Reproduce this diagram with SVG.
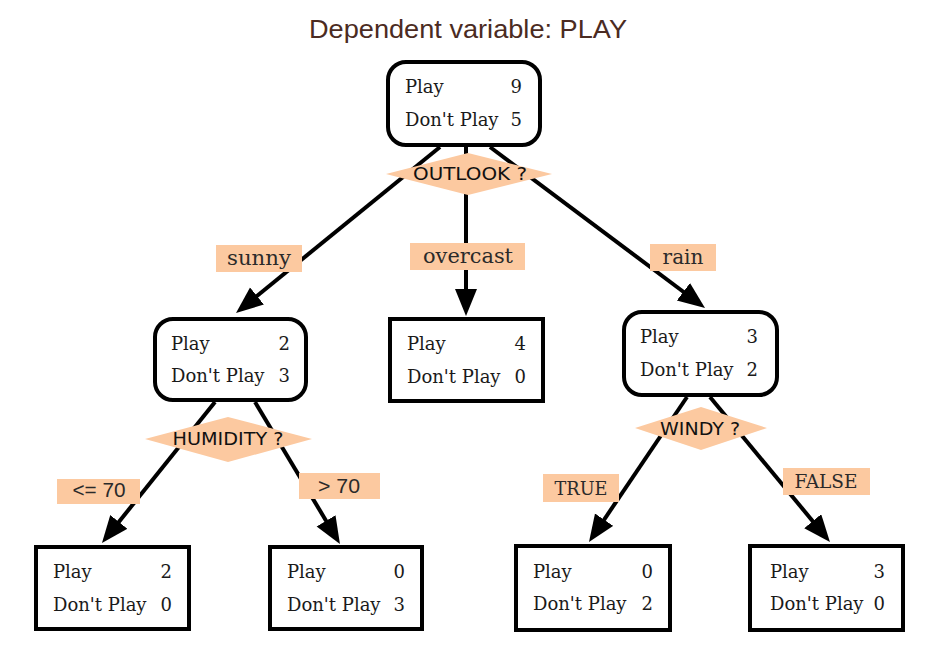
<svg xmlns="http://www.w3.org/2000/svg" width="932" height="661" viewBox="0 0 932 661">
<style>
.box{fill:#fff;stroke:#000;stroke-width:4}
.nt{font-family:"DejaVu Serif","Liberation Serif",serif;font-size:18px;fill:#1a1a1a}
.num{text-anchor:end}
.edge{stroke:#000;stroke-width:4;fill:none}
.dia{fill:#fcc9a0}
.dt{font-family:"DejaVu Sans","Liberation Sans",sans-serif;font-size:17px;fill:#111;text-anchor:middle}
.lab{fill:#fcc9a0}
.lt{font-family:"DejaVu Serif","Liberation Serif",serif;font-size:20px;fill:#2a2a2a;text-anchor:middle}
.ls{font-family:"Liberation Sans","DejaVu Sans",sans-serif;font-size:20px;fill:#2a2a2a;text-anchor:middle}
.title{font-family:"Liberation Sans","DejaVu Sans",sans-serif;font-size:25px;fill:#4b2b22;text-anchor:middle}
</style>
<defs>
<marker id="arr" markerUnits="userSpaceOnUse" markerWidth="28" markerHeight="24" refX="2" refY="11" orient="auto" viewBox="0 0 28 24">
<path d="M0,0 L27,11 L0,22 z" fill="#000"/>
</marker>
</defs>
<rect width="932" height="661" fill="#fff"/>
<text class="title" x="468" y="38" textLength="318" lengthAdjust="spacingAndGlyphs">Dependent variable: PLAY</text>

<g id="connectors">
<line class="edge" x1="440" y1="147" x2="255.4" y2="297.2" marker-end="url(#arr)"/>
<line class="edge" x1="466" y1="147" x2="466" y2="291" marker-end="url(#arr)"/>
<line class="edge" x1="490" y1="147" x2="685" y2="293" marker-end="url(#arr)"/>
<line class="edge" x1="215" y1="402" x2="117.6" y2="523.5" marker-end="url(#arr)"/>
<line class="edge" x1="255" y1="402" x2="327.1" y2="522.5" marker-end="url(#arr)"/>
<line class="edge" x1="687" y1="397" x2="603" y2="521.3" marker-end="url(#arr)"/>
<line class="edge" x1="710" y1="397" x2="814" y2="522.7" marker-end="url(#arr)"/>
</g>

<g id="labels">
<g id="lab-sunny"><rect class="lab" x="216" y="245" width="86" height="27"/><text class="lt" x="259" y="265" textLength="64" lengthAdjust="spacingAndGlyphs">sunny</text></g>
<g id="lab-overcast"><rect class="lab" x="410" y="243" width="115" height="27"/><text class="lt" x="468" y="263" textLength="90" lengthAdjust="spacingAndGlyphs">overcast</text></g>
<g id="lab-rain"><rect class="lab" x="650" y="244" width="66" height="27"/><text class="lt" x="683" y="264">rain</text></g>
<g id="lab-le70"><rect class="lab" x="57" y="479" width="83" height="25"/><text class="ls" x="99" y="497" textLength="53" lengthAdjust="spacingAndGlyphs">&lt;= 70</text></g>
<g id="lab-gt70"><rect class="lab" x="299" y="473" width="81" height="26"/><text class="ls" x="339" y="493" textLength="42" lengthAdjust="spacingAndGlyphs">&gt; 70</text></g>
<g id="lab-true"><rect class="lab" x="543" y="474" width="76" height="28"/><text class="lt" x="581" y="495" style="font-size:18px" textLength="53" lengthAdjust="spacingAndGlyphs">TRUE</text></g>
<g id="lab-false"><rect class="lab" x="783" y="468" width="87" height="27"/><text class="lt" x="826" y="488" style="font-size:18px" textLength="63" lengthAdjust="spacingAndGlyphs">FALSE</text></g>
</g>

<g id="root">
<rect class="box" x="388" y="62" width="152" height="83" rx="18"/>
<text class="nt" x="405" y="93">Play</text><text class="nt num" x="522" y="93">9</text>
<text class="nt" x="405" y="126">Don't Play</text><text class="nt num" x="522" y="126">5</text>
</g>
<g id="d-outlook">
<polygon class="dia" points="386,174 468,153 552,174 468,195"/>
<text class="dt" x="470" y="180" textLength="114" lengthAdjust="spacingAndGlyphs">OUTLOOK ?</text>
</g>

<g id="sunny">
<rect class="box" x="155" y="319" width="151" height="81" rx="18"/>
<text class="nt" x="171" y="350">Play</text><text class="nt num" x="290" y="350">2</text>
<text class="nt" x="171" y="382">Don't Play</text><text class="nt num" x="290" y="382">3</text>
</g>
<g id="overcast">
<rect class="box" x="390" y="319" width="153" height="82"/>
<text class="nt" x="407" y="350">Play</text><text class="nt num" x="526" y="350">4</text>
<text class="nt" x="407" y="383">Don't Play</text><text class="nt num" x="526" y="383">0</text>
</g>
<g id="rain">
<rect class="box" x="624" y="312" width="153" height="83" rx="18"/>
<text class="nt" x="640" y="343">Play</text><text class="nt num" x="758" y="343">3</text>
<text class="nt" x="640" y="376">Don't Play</text><text class="nt num" x="758" y="376">2</text>
</g>
<g id="d-humidity">
<polygon class="dia" points="145,439 228,417 312,439 228,462"/>
<text class="dt" x="228" y="445" textLength="111" lengthAdjust="spacingAndGlyphs">HUMIDITY ?</text>
</g>
<g id="d-windy">
<polygon class="dia" points="635,428 701,407 767,428 701,450"/>
<text class="dt" x="700" y="435" textLength="80" lengthAdjust="spacingAndGlyphs">WINDY ?</text>
</g>

<g id="leaf-le70">
<rect class="box" x="36" y="547" width="153" height="82"/>
<text class="nt" x="53" y="578">Play</text><text class="nt num" x="172" y="578">2</text>
<text class="nt" x="53" y="611">Don't Play</text><text class="nt num" x="172" y="611">0</text>
</g>
<g id="leaf-gt70">
<rect class="box" x="270" y="547" width="152" height="82"/>
<text class="nt" x="287" y="578">Play</text><text class="nt num" x="405" y="578">0</text>
<text class="nt" x="287" y="611">Don't Play</text><text class="nt num" x="405" y="611">3</text>
</g>
<g id="leaf-true">
<rect class="box" x="516" y="546" width="154" height="84"/>
<text class="nt" x="533" y="578">Play</text><text class="nt num" x="653" y="578">0</text>
<text class="nt" x="533" y="610">Don't Play</text><text class="nt num" x="653" y="610">2</text>
</g>
<g id="leaf-false">
<rect class="box" x="750" y="546" width="153" height="84"/>
<text class="nt" x="770" y="578">Play</text><text class="nt num" x="885" y="578">3</text>
<text class="nt" x="770" y="610">Don't Play</text><text class="nt num" x="885" y="610">0</text>
</g>
</svg>
